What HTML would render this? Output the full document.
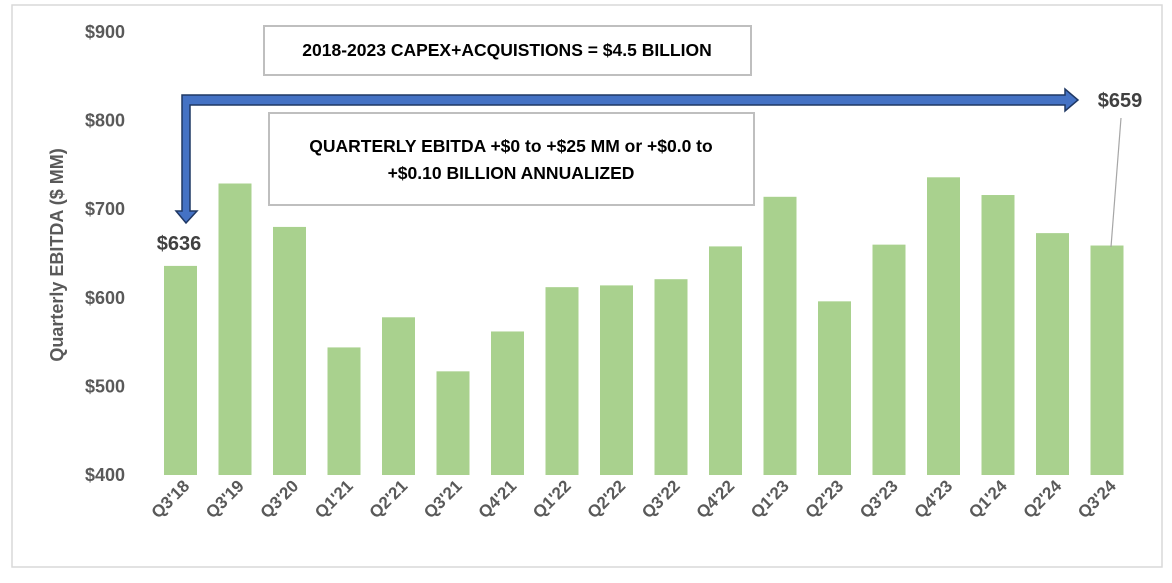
<!DOCTYPE html>
<html><head><meta charset="utf-8"><style>
body{margin:0;background:#fff;}
svg text{font-family:"Liberation Sans",sans-serif;}
</style></head><body>
<svg width="1172" height="578" xmlns="http://www.w3.org/2000/svg">
<rect x="12" y="5" width="1150" height="562" fill="#fff" stroke="#d9d9d9" stroke-width="1.5"/>
<g id="yaxis"></g>
<g id="bars"></g>
<g id="xlabels"></g>
<text transform="translate(63,255) rotate(-90)" text-anchor="middle" font-size="18" font-weight="bold" fill="#595959">Quarterly  EBITDA ($ MM)</text>
<rect x="264" y="26" width="487" height="49" fill="#fff" stroke="#bfbfbf" stroke-width="2"/>
<text x="507" y="56" text-anchor="middle" font-size="17.5" font-weight="bold" fill="#000">2018-2023 CAPEX+ACQUISTIONS = $4.5 BILLION</text>
<rect x="269" y="113" width="485" height="92" fill="#fff" stroke="#bfbfbf" stroke-width="2"/>
<text x="511" y="152" text-anchor="middle" font-size="17.5" font-weight="bold" fill="#000">QUARTERLY EBITDA +$0  to +$25 MM or +$0.0 to</text>
<text x="511" y="179" text-anchor="middle" font-size="17.5" font-weight="bold" fill="#000">+$0.10 BILLION ANNUALIZED</text>
<path d="M182,95 L1065,95 L1065,89 L1078,100 L1065,111 L1065,105 L190,105 L190,211 L197,211 L186,223 L176,211 L182,211 Z" fill="#4472c4" stroke="#1f3864" stroke-width="1.5"/>
<line x1="1121" y1="118" x2="1111" y2="247" stroke="#a6a6a6" stroke-width="1.2"/>
<text x="179" y="250" text-anchor="middle" font-size="20" font-weight="bold" fill="#404040">$636</text>
<text x="1120" y="107" text-anchor="middle" font-size="20" font-weight="bold" fill="#404040">$659</text>
</svg>
<script>
const categories=["Q3'18","Q3'19","Q3'20","Q1'21","Q2'21","Q3'21","Q4'21","Q1'22","Q2'22","Q3'22","Q4'22","Q1'23","Q2'23","Q3'23","Q4'23","Q1'24","Q2'24","Q3'24"];
const values=[636,729,680,544,578,517,562,612,614,621,658,714,596,660,736,716,673,659];
const yTicks=[400,500,600,700,800,900];
const yTickLabels=["$400","$500","$600","$700","$800","$900"];
const NS="http://www.w3.org/2000/svg";
function y(v){return 475-(v-400)*0.886;}
function xc(i){return 180.5+i*54.5;}
const ya=document.getElementById('yaxis'),bg=document.getElementById('bars'),xl=document.getElementById('xlabels');
yTicks.forEach((t,i)=>{const e=document.createElementNS(NS,'text');


e.setAttribute('x',125);e.setAttribute('y',y(t)+6);e.setAttribute('text-anchor','end');e.setAttribute('font-size','18');e.setAttribute('font-weight','bold');e.setAttribute('fill','#595959');e.textContent=yTickLabels[i];ya.appendChild(e);});
values.forEach((v,i)=>{const r=document.createElementNS(NS,'rect');


r.setAttribute('x',xc(i)-16.5);r.setAttribute('width',33);r.setAttribute('y',y(v));r.setAttribute('height',y(400)-y(v));r.setAttribute('fill','#a9d18e');bg.appendChild(r);
const t=document.createElementNS(NS,'text');


t.setAttribute('font-size','17');t.setAttribute('font-weight','bold');t.setAttribute('fill','#595959');t.setAttribute('text-anchor','end');
t.setAttribute('transform','translate('+(xc(i)+10)+',487) rotate(-45)');t.textContent=categories[i];xl.appendChild(t);});
</script>
</body></html>
